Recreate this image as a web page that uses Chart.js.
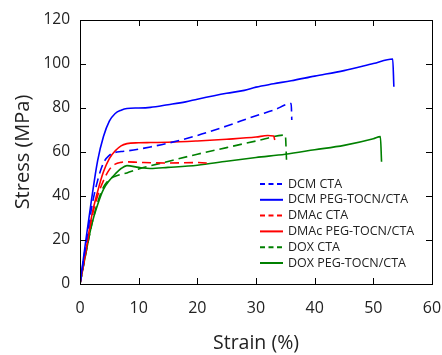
<!DOCTYPE html>
<html>
<head>
<meta charset="utf-8">
<script src="https://cdn.jsdelivr.net/npm/chart.js@4.4.1/dist/chart.umd.min.js"></script>
<style>
  html, body { margin: 0; padding: 0; background: #fff; }
  #wrap { width: 442px; height: 355px; position: relative; }
</style>
</head>
<body>
<div id="wrap"><canvas id="stressChart"></canvas></div>
<script>
// Strain (%) / Stress (MPa)
const xTicks = [0, 10, 20, 30, 40, 50, 60];
const yTicks = [0, 20, 40, 60, 80, 100, 120];

const dcmCtaStrain = [0, 1, 2, 3, 4, 5, 6, 7, 8, 10, 12, 15, 20, 25, 30, 33, 36, 36.1];
const dcmCtaStress = [0, 18, 35, 47, 55, 58.5, 59.8, 60.2, 60.5, 61.3, 62.3, 64, 67.5, 71.8, 76.5, 79, 82, 74.5];

const dcmPegStrain = [0, 1, 2, 3, 4, 5, 6, 7, 8, 10, 12, 15, 18, 20, 25, 28, 30, 33, 36, 40, 45, 50, 53.3, 53.5];
const dcmPegStress = [0, 20, 39, 56, 67, 74, 77.5, 79, 79.8, 80, 80.3, 81.5, 82.8, 84, 86.7, 88, 89.5, 91, 92.4, 94.5, 97, 100.2, 102.3, 89.7];

const dmacCtaStrain = [0, 1, 2, 3, 4, 5, 6, 7, 8, 10, 15, 20, 21.5, 21.6];
const dmacCtaStress = [0, 15, 30, 40, 47, 52, 54.5, 55.3, 55.5, 55.3, 55, 55.2, 55, 53.5];

const dmacPegStrain = [0, 1, 2, 3, 4, 5, 6, 7, 8, 10, 12, 15, 20, 25, 30, 32, 33, 33.2];
const dmacPegStress = [0, 15, 31, 42, 51, 57, 60.5, 62.8, 63.8, 64.2, 64.3, 64.4, 65, 65.8, 66.8, 67.5, 67.3, 65.5];

const doxCtaStrain = [0, 1, 2, 3, 4, 5, 6, 8, 10, 15, 20, 25, 30, 35, 35.2];
const doxCtaStress = [0, 14, 27, 37, 44, 47.5, 49, 50.5, 52.3, 55.7, 59, 62, 65, 67.7, 56.5];

const doxPegStrain = [0, 1, 2, 3, 4, 5, 6, 7, 8, 10, 12, 15, 20, 25, 30, 35, 40, 45, 50, 51.2, 51.4];
const doxPegStress = [0, 14, 27, 36, 43, 47, 50, 52.5, 53.8, 53, 52.5, 53, 54, 55.8, 57.5, 59, 61, 63, 66, 67, 55.6];

const seriesLabels = ['DCM CTA', 'DCM PEG-TOCN/CTA', 'DMAc CTA', 'DMAc PEG-TOCN/CTA', 'DOX CTA', 'DOX PEG-TOCN/CTA'];
const seriesColors = ['#0000ff', '#0000ff', '#ff0000', '#ff0000', '#008000', '#008000'];
const seriesDashed = [true, false, true, false, true, false];

const FONT = "'Open Sans', 'Noto Sans', sans-serif";

// build points from the arrays
function toPoints(xs, ys) {
    return xs.map((x, i) => ({ x: x, y: ys[i] }));
}
const allData = [
    toPoints(dcmCtaStrain, dcmCtaStress),
    toPoints(dcmPegStrain, dcmPegStress),
    toPoints(dmacCtaStrain, dmacCtaStress),
    toPoints(dmacPegStrain, dmacPegStress),
    toPoints(doxCtaStrain, doxCtaStress),
    toPoints(doxPegStrain, doxPegStress)
];

// frame, inward ticks and the legend box
const framePlugin = {
    id: 'frame',
    afterDraw(chart) {
        const ctx = chart.ctx;
        const a = chart.chartArea;
        const xs = chart.scales.x, ys = chart.scales.y;
        ctx.save();
        ctx.strokeStyle = '#000';
        ctx.lineWidth = 1;
        ctx.strokeRect(Math.round(a.left) + 0.5, Math.round(a.top) + 0.5,
            Math.round(a.right - a.left), Math.round(a.bottom - a.top));
        const tl = 6;
        ctx.beginPath();
        xTicks.forEach(v => {
            const px = Math.round(xs.getPixelForValue(v)) + 0.5;
            ctx.moveTo(px, a.bottom); ctx.lineTo(px, a.bottom - tl);
            ctx.moveTo(px, a.top); ctx.lineTo(px, a.top + tl);
        });
        yTicks.forEach(v => {
            const py = Math.round(ys.getPixelForValue(v)) + 0.5;
            ctx.moveTo(a.left, py); ctx.lineTo(a.left + tl, py);
            ctx.moveTo(a.right, py); ctx.lineTo(a.right - tl, py);
        });
        ctx.stroke();

        // legend
        ctx.font = '12.5px ' + FONT;
        ctx.textBaseline = 'middle';
        seriesLabels.forEach((lab, i) => {
            const y = 184 + i * 15.8;
            ctx.strokeStyle = seriesColors[i];
            ctx.lineWidth = 2;
            ctx.setLineDash(seriesDashed[i] ? [5, 3.5] : []);
            ctx.beginPath();
            ctx.moveTo(260, y); ctx.lineTo(283, y);
            ctx.stroke();
            ctx.setLineDash([]);
            ctx.fillStyle = '#222';
            ctx.fillText(lab, 288, y);
        });
        ctx.restore();
    }
};

new Chart(document.getElementById('stressChart'), {
    type: 'scatter',
    data: {
        datasets: allData.map((pts, i) => ({
            label: seriesLabels[i],
            data: pts,
            showLine: true,
            borderColor: seriesColors[i],
            backgroundColor: seriesColors[i],
            borderWidth: 1.6,
            borderDash: seriesDashed[i] ? [9, 5] : [],
            pointRadius: 0,
            tension: 0.25,
            cubicInterpolationMode: 'monotone'
        }))
    },
    options: {
        responsive: true,
        maintainAspectRatio: false,
        animation: false,
        devicePixelRatio: 1,
        layout: { padding: { top: 20, right: 10, left: 0, bottom: 0 } },
        plugins: {
            legend: { display: false },
            tooltip: { enabled: false }
        },
        scales: {
            x: {
                type: 'linear',
                min: 0, max: 60,
                afterBuildTicks: s => { s.ticks = xTicks.map(v => ({ value: v })); },
                afterFit: s => { s.height = 71; s.paddingLeft = 0; s.paddingRight = 0; },
                grid: { display: false, drawTicks: false },
                border: { display: false },
                ticks: { color: '#222', font: { family: FONT, size: 16 }, padding: 15, maxRotation: 0 },
                title: { display: true, text: 'Strain (%)', color: '#222', font: { family: FONT, size: 19.5 }, padding: { top: 4, bottom: 0 } }
            },
            y: {
                min: 0, max: 120,
                afterBuildTicks: s => { s.ticks = yTicks.map(v => ({ value: v })); },
                afterFit: s => { s.width = 80; s.paddingTop = 0; s.paddingBottom = 0; },
                grid: { display: false, drawTicks: false },
                border: { display: false },
                ticks: { color: '#222', font: { family: FONT, size: 15.5 }, padding: 10 },
                title: { display: true, text: 'Stress (MPa)', color: '#222', font: { family: FONT, size: 20 }, padding: { top: 11, bottom: 0 } }
            }
        }
    },
    plugins: [framePlugin]
});
</script>
</body>
</html>
